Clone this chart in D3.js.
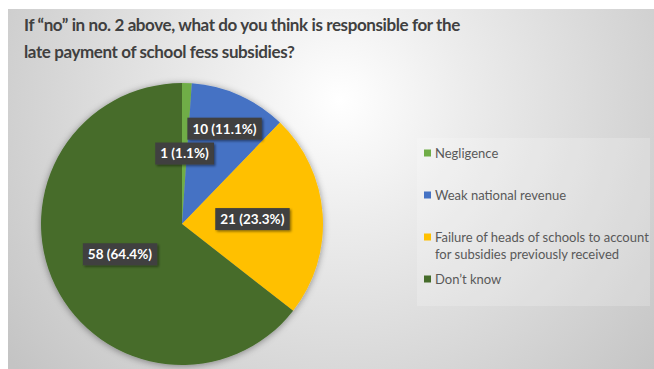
<!DOCTYPE html>
<html>
<head>
<meta charset="utf-8">
<script src="https://cdn.jsdelivr.net/npm/d3@7"></script>
<style>
  html, body { margin: 0; padding: 0; background: #fff; }
  svg { display: block; }
</style>
</head>
<body>
<svg id="chart" width="654" height="369"></svg>
<script>
// Survey responses: cause of late payment of school fees subsidies
const categories = [
  "Negligence",
  "Weak national revenue",
  "Failure of heads of schools to account for subsidies previously received",
  "Don’t know"
];
const legendLines = [
  ["Negligence"],
  ["Weak national revenue"],
  ["Failure of heads of schools to account", "for subsidies previously received"],
  ["Don’t know"]
];
const counts = [1, 10, 21, 58];
const percents = ["1.1%", "11.1%", "23.3%", "64.4%"];
const colors = ["#70ad47", "#4472c4", "#ffc000", "#466c2b"];
// Best-fit label distance from centre, as a share of the radius
const labelRadiusShare = [0.5, 0.74, 0.5, 0.49];

const titleLines = [
  "If “no” in no. 2 above, what do you think is responsible for the",
  "late payment of school fess subsidies?"
];

const svg = d3.select("#chart");
const W = 654, H = 369;
const frame = { x: 8, y: 9, w: W - 8, h: H - 9 };
const font = "Lato, 'Open Sans', sans-serif";

const defs = svg.append("defs");
const bg = defs.append("radialGradient")
  .attr("id", "bg")
  .attr("gradientUnits", "userSpaceOnUse")
  .attr("cx", 340).attr("cy", 100).attr("r", 420);
bg.append("stop").attr("offset", "0%").attr("stop-color", "#ffffff");
bg.append("stop").attr("offset", "30%").attr("stop-color", "#ececec");
bg.append("stop").attr("offset", "100%").attr("stop-color", "#c4c4c4");

const pieShadow = defs.append("filter").attr("id", "pieShadow")
  .attr("x", "-20%").attr("y", "-20%").attr("width", "140%").attr("height", "140%");
pieShadow.append("feDropShadow").attr("dx", 0).attr("dy", 1)
  .attr("stdDeviation", 3.5).attr("flood-color", "#000").attr("flood-opacity", 0.4);

const boxShadow = defs.append("filter").attr("id", "boxShadow")
  .attr("x", "-20%").attr("y", "-40%").attr("width", "140%").attr("height", "180%");
boxShadow.append("feDropShadow").attr("dx", 1.5).attr("dy", 1.5)
  .attr("stdDeviation", 1.2).attr("flood-color", "#000").attr("flood-opacity", 0.45);

// Chart area background
svg.append("rect")
  .attr("x", frame.x).attr("y", frame.y)
  .attr("width", frame.w).attr("height", frame.h)
  .attr("fill", "url(#bg)");

// Title
svg.append("g")
  .selectAll("text")
  .data(titleLines)
  .join("text")
  .attr("x", 24)
  .attr("y", (d, i) => 31 + i * 27)
  .attr("font-family", font)
  .attr("font-weight", "bold")
  .attr("font-size", 17)
  .attr("letter-spacing", -0.4)
  .attr("fill", "#404040")
  .text(d => d);

// Pie
const cx = 182, cy = 224, R = 141;
const pie = d3.pie().sort(null).value(d => d)(counts);
const arc = d3.arc().innerRadius(0).outerRadius(R);

const g = svg.append("g").attr("transform", `translate(${cx},${cy})`);

g.append("g").attr("filter", "url(#pieShadow)")
  .selectAll("path")
  .data(pie)
  .join("path")
  .attr("d", arc)
  .attr("fill", (d, i) => colors[i]);

// Data labels
const labels = g.append("g")
  .selectAll("g")
  .data(pie)
  .join("g")
  .attr("transform", (d, i) => {
    const rr = R * labelRadiusShare[i];
    const c = d3.arc().innerRadius(rr).outerRadius(rr).centroid(d);
    return `translate(${c[0]},${c[1]})`;
  });

labels.each(function (d, i) {
  const sel = d3.select(this);
  const t = sel.append("text")
    .attr("text-anchor", "middle")
    .attr("dy", "0.36em")
    .attr("font-family", font)
    .attr("font-weight", "bold")
    .attr("font-size", 13.5)
    .attr("fill", "#ffffff")
    .text(`${counts[i]} (${percents[i]})`);
  const bb = t.node().getBBox();
  sel.insert("rect", "text")
    .attr("x", bb.x - 5).attr("y", -11)
    .attr("width", bb.width + 10).attr("height", 22)
    .attr("fill", "#3f3f3f")
    .attr("filter", "url(#boxShadow)");
});

// Legend
const legend = svg.append("g");
legend.append("rect")
  .attr("x", 417).attr("y", 138)
  .attr("width", 233).attr("height", 168)
  .attr("fill", "#ffffff").attr("fill-opacity", 0.2);

const itemY = [153, 195, 237, 279];
const items = legend.selectAll("g.item")
  .data(categories)
  .join("g")
  .attr("class", "item")
  .attr("transform", (d, i) => `translate(424,${itemY[i]})`);

items.append("rect")
  .attr("x", 0).attr("y", -3.5)
  .attr("width", 7).attr("height", 7)
  .attr("fill", (d, i) => colors[i]);

items.append("text")
  .attr("font-family", font)
  .attr("font-size", 13)
  .attr("fill", "#595959")
  .selectAll("tspan")
  .data((d, i) => legendLines[i])
  .join("tspan")
  .attr("x", 11)
  .attr("y", (d, j) => j * 17)
  .attr("dy", "0.35em")
  .text(d => d);
</script>
</body>
</html>
